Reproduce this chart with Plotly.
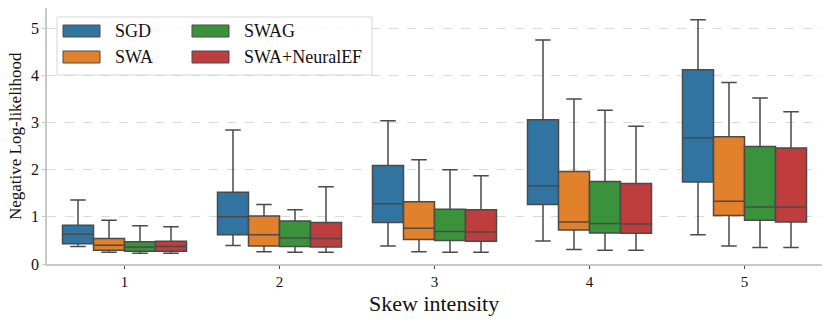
import plotly.graph_objects as go

# skew intensity levels
skew = ["1", "2", "3", "4", "5"]

# box statistics per method: lower whisker, q1, median, q3, upper whisker
sgd_lo = [0.37, 0.39, 0.38, 0.49, 0.62]
sgd_q1 = [0.43, 0.62, 0.88, 1.26, 1.74]
sgd_med = [0.63, 1.00, 1.28, 1.66, 2.68]
sgd_q3 = [0.82, 1.52, 2.09, 3.06, 4.12]
sgd_hi = [1.36, 2.84, 3.04, 4.75, 5.18]

swa_lo = [0.25, 0.26, 0.26, 0.31, 0.38]
swa_q1 = [0.29, 0.38, 0.52, 0.72, 1.03]
swa_med = [0.40, 0.62, 0.76, 0.89, 1.33]
swa_q3 = [0.54, 1.02, 1.32, 1.96, 2.70]
swa_hi = [0.93, 1.26, 2.21, 3.50, 3.85]

swag_lo = [0.23, 0.25, 0.25, 0.29, 0.35]
swag_q1 = [0.27, 0.37, 0.50, 0.66, 0.93]
swag_med = [0.36, 0.55, 0.69, 0.86, 1.21]
swag_q3 = [0.47, 0.91, 1.16, 1.75, 2.49]
swag_hi = [0.81, 1.15, 2.00, 3.26, 3.52]

nef_lo = [0.23, 0.25, 0.25, 0.29, 0.35]
nef_q1 = [0.27, 0.36, 0.48, 0.65, 0.89]
nef_med = [0.37, 0.54, 0.68, 0.85, 1.21]
nef_q3 = [0.48, 0.88, 1.15, 1.71, 2.46]
nef_hi = [0.79, 1.64, 1.87, 2.92, 3.23]

methods = ["SGD", "SWA", "SWAG", "SWA+NeuralEF"]
colors = ["#3274a1", "#e1812c", "#3a923a", "#c03d3e"]
stats = [
    (sgd_lo, sgd_q1, sgd_med, sgd_q3, sgd_hi),
    (swa_lo, swa_q1, swa_med, swa_q3, swa_hi),
    (swag_lo, swag_q1, swag_med, swag_q3, swag_hi),
    (nef_lo, nef_q1, nef_med, nef_q3, nef_hi),
]

FONT = "'Liberation Serif', 'Times New Roman', serif"
W, H = 830, 324
ML, MR, MT, MB = 47, 8, 8, 60

fig = go.Figure()
for name, col, (lo, q1, med, q3, hi) in zip(methods, colors, stats):
    fig.add_trace(go.Box(
        name=name, x=skew, lowerfence=lo, q1=q1, median=med, q3=q3, upperfence=hi,
        fillcolor=col, line=dict(color="#4a4a4a", width=1.5),
        whiskerwidth=0.5, boxpoints=False, showlegend=False,
    ))

# pixel -> paper helpers
pw, ph = W - ML - MR, H - MT - MB
px = lambda x: (x - ML) / pw
py = lambda y: 1 - (y - MT) / ph

# legend drawn by hand (matplotlib style, 2 columns)
fig.add_shape(type="rect", xref="paper", yref="paper",
              x0=px(57), x1=px(372), y0=py(75), y1=py(17),
              line=dict(color="#d6d6d6", width=1), fillcolor="rgba(255,255,255,0.8)")
spots = [(63, 31), (63, 57), (192, 31), (192, 57)]
for name, col, (lx, ly) in zip(methods, colors, spots):
    fig.add_shape(type="rect", xref="paper", yref="paper",
                  x0=px(lx), x1=px(lx + 37), y0=py(ly + 6), y1=py(ly - 6),
                  line=dict(color="#4a4a4a", width=1), fillcolor=col)
    fig.add_annotation(xref="paper", yref="paper", x=px(lx + 50), y=py(ly),
                       text=name, showarrow=False, xanchor="left", yanchor="middle",
                       font=dict(family=FONT, size=18, color="#111"))

# axis titles
fig.add_annotation(xref="paper", yref="paper", x=px(434), y=py(303), text="Skew intensity",
                   showarrow=False, xanchor="center", yanchor="middle",
                   font=dict(family=FONT, size=22, color="#111"))
fig.add_annotation(xref="paper", yref="paper", x=px(15), y=py(136), text="Negative Log-likelihood",
                   showarrow=False, xanchor="center", yanchor="middle", textangle=-90,
                   font=dict(family=FONT, size=17, color="#111"))

fig.update_layout(
    width=W, height=H,
    margin=dict(l=ML, r=MR, t=MT, b=MB),
    boxmode="group", boxgap=0.2, boxgroupgap=0,
    plot_bgcolor="white", paper_bgcolor="white",
    font=dict(family=FONT, size=16, color="#111"),
    xaxis=dict(
        automargin=False,
        showline=True, linecolor="#c8c8c8", linewidth=1.5,
        ticks="outside", ticklen=3, tickcolor="#444",
        tickfont=dict(family=FONT, size=15, color="#111"),
        range=[-0.5, 4.5], showgrid=False,
    ),
    yaxis=dict(
        automargin=False,
        showline=True, linecolor="#c8c8c8", linewidth=1.5,
        ticks="outside", ticklen=3, tickcolor="#c8c8c8",
        tickfont=dict(family=FONT, size=16, color="#111"),
        range=[0, 5.43], tickvals=[0, 1, 2, 3, 4, 5],
        showgrid=True, gridcolor="#d9d9d9", griddash="dash", gridwidth=1,
        zeroline=False,
    ),
)

# page has a default 8px body margin; drop it so the figure fills the window
fig.write_html(
    "out.html",
    config={"displayModeBar": False},
    post_script="document.body.style.margin='0';document.body.style.overflow='hidden';",
)
